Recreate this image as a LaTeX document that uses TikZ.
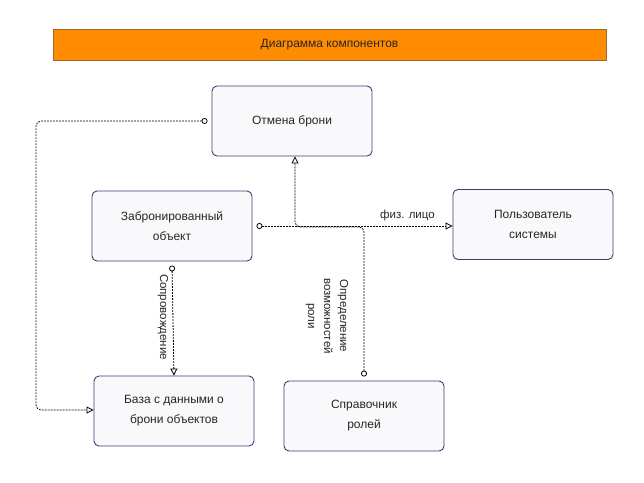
\documentclass[tikz,border=0pt]{standalone}
\usepackage{fontspec}
\setmainfont{Liberation Sans}
\usetikzlibrary{arrows.meta}
\definecolor{boxborder}{HTML}{3C3C78}
\definecolor{boxfill}{HTML}{F9F9FB}
\definecolor{titlefill}{HTML}{FF8C00}
\definecolor{titleborder}{HTML}{9A6A30}
\definecolor{txt}{HTML}{262626}
\begin{document}
\begin{tikzpicture}[x=1pt,y=-1pt,
  comp/.style={draw=boxborder,fill=boxfill,line width=0.9pt,rounded corners=5pt,
    minimum width=160pt,minimum height=70pt,align=center,font=\fontsize{12}{20}\selectfont,text=txt},
  link/.style={draw=black,line width=0.8pt,dash pattern=on 1.8pt off 1.2pt,rounded corners=5pt,
    {Circle[open,length=6pt,width=6pt,line width=0.8pt]}-{Triangle[open,length=7pt,width=7pt,line width=0.8pt]}},
  lbl/.style={font=\fontsize{11.5}{16}\selectfont,text=txt,align=center}]
\useasboundingbox (0,0) rectangle (644,482);
\fill[white] (0,0) rectangle (644,482);
\node[draw=titleborder,fill=titlefill,line width=0.7pt,minimum width=553pt,minimum height=31pt,
  font=\fontsize{12}{14}\selectfont,text=txt] (title) at (329.5,44.5) {Диаграмма компонентов};
\node[comp] (otm) at (292,121) {Отмена брони};
\node[comp] (zab) at (172,226) {Забронированный\\объект};
\node[comp] (pol) at (533,224.5) {Пользователь\\системы};
\node[comp] (baz) at (174,411) {База с данными о\\брони объектов};
\node[comp] (spr) at (364,416) {Справочник\\ролей};
\coordinate (a1) at (36,121);
\coordinate (a2) at (36,410);
\coordinate (b1) at (364,227);
\coordinate (b2) at (295,227);
\draw[link] ([xshift=-4pt]otm.west) -- (a1) -- (a2) -- (baz.west|-a2);
\draw[link] ([xshift=4pt]zab.east) -- (pol.west|-zab.east) node[lbl,pos=0.77,above=1pt] {физ. лицо};
\draw[link] ([yshift=4pt]spr.north) -- (b1) -- (b2) -- (b2|-otm.south);
\draw[link] ([yshift=-4pt]zab.south) -- (baz.north);
\node[lbl,rotate=-90] (l1) at (163,317) {Сопровождение};
\node[lbl,rotate=-90] (l2) at (327,316) {Определение\\возможностей\\роли};
\end{tikzpicture}
\end{document}
